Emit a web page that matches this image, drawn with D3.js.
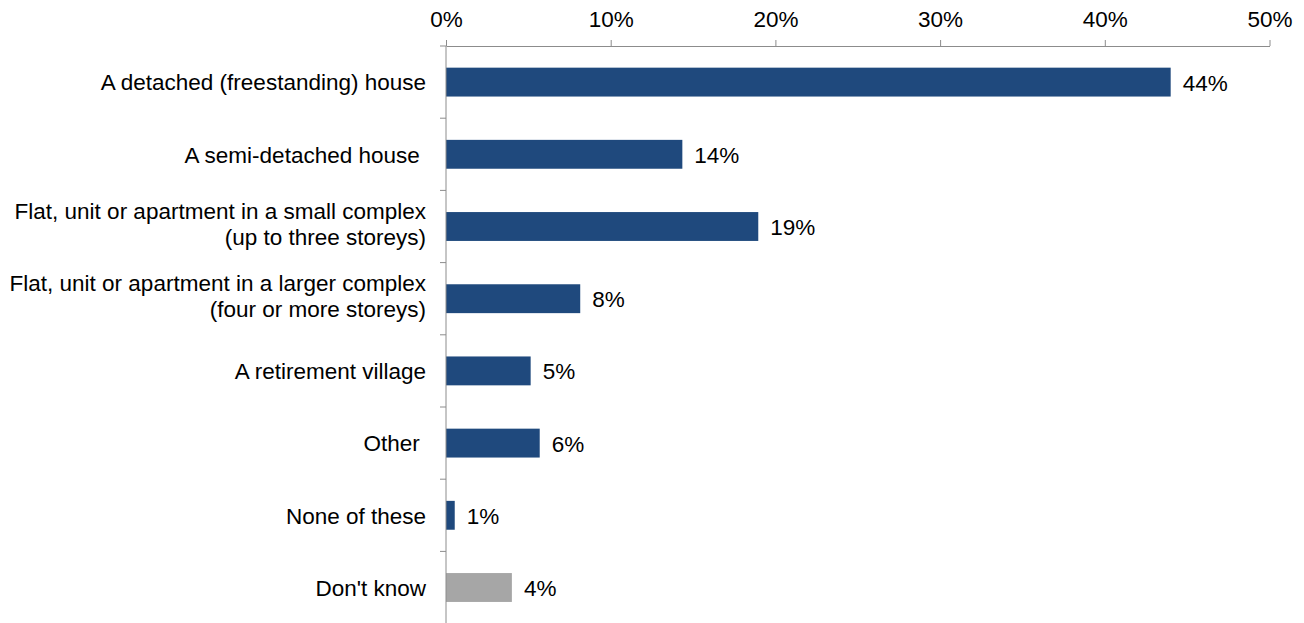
<!DOCTYPE html>
<html>
<head>
<meta charset="utf-8">
<script src="https://cdn.jsdelivr.net/npm/d3@7"></script>
<style>
  html, body { margin: 0; padding: 0; background: #ffffff; }
  svg { display: block; font-family: "Liberation Sans", Arial, sans-serif; }
</style>
</head>
<body>
<svg id="chart" width="1304" height="623"></svg>
<script>
// Type of dwelling respondents live in (share of respondents)
const categories = [
  ["A detached (freestanding) house"],
  ["A semi-detached house "],
  ["Flat, unit or apartment in a small complex", "(up to three storeys)"],
  ["Flat, unit or apartment in a larger complex", "(four or more storeys)"],
  ["A retirement village"],
  ["Other "],
  ["None of these"],
  ["Don't know"]
];
const values = [0.440, 0.1435, 0.1896, 0.0815, 0.0514, 0.0569, 0.0053, 0.040];
const highlight = [false, false, false, false, false, false, false, true];
const tickValues = [0, 0.1, 0.2, 0.3, 0.4, 0.5];

const svg = d3.select("#chart");
const plotLeft = 446, plotRight = 1269.5, plotTop = 46, plotBottom = 623.6;
const fontSize = 22.5;

const x = d3.scaleLinear().domain([0, 0.5]).range([plotLeft, plotRight]);
const y = d3.scaleBand()
  .domain(d3.range(categories.length))
  .range([plotTop, plotBottom])
  .paddingInner(0.6)
  .paddingOuter(0.3);

const axisColor = "#8c8c8c";
const fmt = d3.format(".0%");

// Bars
svg.append("g").selectAll("rect")
  .data(values)
  .join("rect")
  .attr("x", x(0))
  .attr("y", (d, i) => y(i))
  .attr("width", d => x(d) - x(0))
  .attr("height", y.bandwidth())
  .attr("fill", (d, i) => highlight[i] ? "#a6a6a6" : "#1f497d");

// Value labels
svg.append("g").selectAll("text")
  .data(values)
  .join("text")
  .attr("x", d => x(d) + 12)
  .attr("y", (d, i) => y(i) + y.bandwidth() / 2 + 8.5)
  .attr("font-size", fontSize)
  .attr("fill", "#000")
  .text(d => fmt(d));

// Top percentage axis
const xAxis = d3.axisTop(x)
  .tickValues(tickValues)
  .tickFormat(fmt)
  .tickSize(6)
  .tickSizeOuter(0)
  .tickPadding(12.7);
const gx = svg.append("g")
  .attr("transform", `translate(0,${plotTop})`)
  .call(xAxis);
gx.select(".domain").attr("stroke", axisColor);
gx.selectAll(".tick line").attr("stroke", axisColor);
gx.selectAll(".tick text")
  .attr("font-size", fontSize)
  .attr("font-family", "Liberation Sans, Arial, sans-serif")
  .attr("fill", "#000");

// Vertical category axis with ticks between categories
const step = y.step();
const boundaries = d3.range(categories.length + 1).map(k => plotTop + k * step);
const gy = svg.append("g");
gy.append("line")
  .attr("x1", plotLeft).attr("x2", plotLeft)
  .attr("y1", plotTop).attr("y2", plotBottom)
  .attr("stroke", axisColor);
gy.selectAll("line.tk")
  .data(boundaries)
  .join("line")
  .attr("class", "tk")
  .attr("x1", plotLeft - 6).attr("x2", plotLeft)
  .attr("y1", d => d).attr("y2", d => d)
  .attr("stroke", axisColor);

// Category labels (two-line labels sit slightly higher)
const lineGap = 26;
svg.append("g").selectAll("text")
  .data(categories)
  .join("text")
  .attr("text-anchor", "end")
  .attr("font-size", fontSize)
  .attr("fill", "#000")
  .style("white-space", "pre")
  .each(function(lines, i) {
    const cy = y(i) + y.bandwidth() / 2;
    const shift = lines.length > 1 ? -3 : 0;
    const t = d3.select(this);
    lines.forEach((ln, j) => {
      t.append("tspan")
        .attr("x", 426)
        .attr("y", cy + 8.3 + shift + (j - (lines.length - 1) / 2) * lineGap)
        .text(ln);
    });
  });
</script>
</body>
</html>
